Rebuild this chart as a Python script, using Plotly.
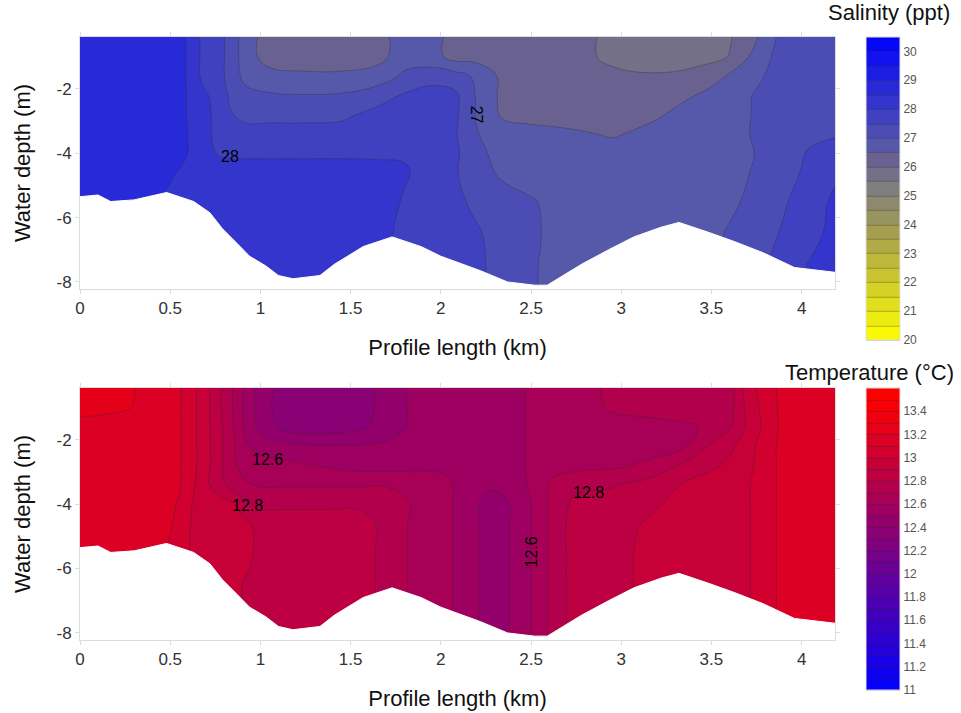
import plotly.graph_objects as go

# ---------------- data ----------------
depths = [-0.39, -1.0, -1.6, -2.2, -2.8, -3.4, -4.0, -4.6, -5.5, -6.5, -7.5, -8.22]

sal_x = [0, 0.25, 0.45, 0.55, 0.63, 0.7, 0.77, 0.84, 0.92, 1.05, 1.25, 1.45, 1.65, 1.8,
         1.95, 2.08, 2.2, 2.35, 2.5, 2.7, 2.95, 3.2, 3.45, 3.6, 3.75, 3.9, 4.05, 4.185]

salinity = [
    [28.75, 28.75, 28.75, 28.7, 28.25, 27.75, 27.7, 27.25, 26.75, 26.25, 26.2, 26.2, 26.3, 26.75, 26.7, 26.3, 26.25, 26.25, 26.2, 26.2, 25.9, 25.75, 25.75, 25.95, 26.45, 27.2, 27.25, 27.25],
    [28.75, 28.75, 28.75, 28.7, 28.25, 27.75, 27.7, 27.25, 26.75, 26.25, 26.2, 26.2, 26.35, 26.75, 26.7, 26.3, 26.3, 26.25, 26.2, 26.2, 25.9, 25.75, 25.8, 26.02, 26.7, 27.25, 27.25, 27.25],
    [28.75, 28.75, 28.75, 28.7, 28.25, 27.75, 27.7, 27.25, 26.85, 26.7, 26.6, 26.6, 26.7, 27.1, 27.25, 27.2, 26.9, 26.35, 26.25, 26.2, 26.1, 26.05, 26.25, 26.55, 26.9, 27.25, 27.25, 27.25],
    [28.75, 28.75, 28.75, 28.7, 28.3, 28.05, 27.75, 27.4, 27.15, 27.05, 27.02, 27.05, 27.3, 27.55, 27.75, 27.6, 26.95, 26.35, 26.25, 26.25, 26.2, 26.25, 26.55, 26.75, 27.05, 27.25, 27.25, 27.3],
    [28.75, 28.75, 28.75, 28.7, 28.3, 28.1, 27.85, 27.52, 27.35, 27.35, 27.35, 27.4, 27.65, 27.75, 27.75, 27.6, 26.95, 26.4, 26.3, 26.25, 26.25, 26.45, 26.75, 26.8, 27.05, 27.25, 27.25, 27.3],
    [28.75, 28.75, 28.75, 28.7, 28.35, 28.1, 27.85, 27.75, 27.7, 27.7, 27.7, 27.7, 27.75, 27.85, 27.8, 27.55, 27.02, 26.75, 26.7, 26.6, 26.45, 26.65, 26.8, 26.85, 27.05, 27.3, 27.4, 27.45],
    [28.75, 28.75, 28.75, 28.7, 28.35, 28.15, 27.95, 27.9, 27.9, 27.9, 27.9, 27.9, 27.9, 27.95, 27.8, 27.6, 27.1, 26.85, 26.75, 26.7, 26.7, 26.7, 26.75, 26.8, 27.02, 27.3, 27.55, 27.7],
    [28.75, 28.75, 28.75, 28.45, 28.3, 28.25, 28.25, 28.25, 28.25, 28.25, 28.25, 28.25, 28.2, 28.05, 27.8, 27.55, 27.2, 26.9, 26.75, 26.7, 26.7, 26.7, 26.75, 26.85, 27.05, 27.35, 27.6, 27.9],
    [28.75, 28.75, 28.45, 28.3, 28.25, 28.25, 28.25, 28.25, 28.25, 28.25, 28.25, 28.25, 28.25, 27.95, 27.8, 27.6, 27.4, 27.2, 27.05, 26.75, 26.7, 26.7, 26.75, 26.9, 27.15, 27.45, 27.75, 28.1],
    [28.75, 28.75, 28.45, 28.3, 28.25, 28.25, 28.25, 28.25, 28.25, 28.25, 28.25, 28.25, 28.2, 27.85, 27.75, 27.7, 27.55, 27.3, 27.1, 26.75, 26.75, 26.75, 26.8, 27.05, 27.3, 27.55, 27.85, 28.15],
    [28.75, 28.75, 28.45, 28.3, 28.25, 28.25, 28.25, 28.25, 28.25, 28.25, 28.25, 28.25, 28.2, 27.85, 27.75, 27.7, 27.6, 27.3, 27.05, 26.8, 26.8, 26.8, 26.85, 27.1, 27.35, 27.7, 28.05, 28.3],
    [28.75, 28.75, 28.45, 28.3, 28.25, 28.25, 28.25, 28.25, 28.25, 28.25, 28.25, 28.25, 28.2, 27.85, 27.75, 27.7, 27.6, 27.3, 27.05, 26.8, 26.8, 26.8, 26.85, 27.1, 27.35, 27.7, 28.05, 28.3],
]

temp_x = [0, 0.25, 0.45, 0.55, 0.63, 0.7, 0.77, 0.84, 0.92, 1.0, 1.15, 1.35, 1.55, 1.7, 1.85, 2.0,
          2.13, 2.28, 2.42, 2.52, 2.62, 2.75, 2.95, 3.15, 3.35, 3.5, 3.62, 3.7, 3.8, 3.92, 4.05, 4.185]

temperature = [
    [13.25, 13.22, 13.15, 13.11, 13.02, 12.93, 12.82, 12.71, 12.57, 12.45, 12.35, 12.33, 12.36, 12.44, 12.52, 12.55, 12.55, 12.56, 12.58, 12.62, 12.65, 12.66, 12.72, 12.74, 12.75, 12.77, 12.79, 12.95, 13.05, 13.15, 13.15, 13.15],
    [13.25, 13.21, 13.15, 13.11, 13.02, 12.93, 12.82, 12.71, 12.57, 12.45, 12.33, 12.32, 12.35, 12.44, 12.52, 12.55, 12.55, 12.56, 12.58, 12.62, 12.65, 12.66, 12.71, 12.72, 12.73, 12.76, 12.79, 12.93, 13.04, 13.15, 13.15, 13.15],
    [13.15, 13.15, 13.15, 13.11, 13.02, 12.93, 12.83, 12.72, 12.57, 12.47, 12.36, 12.34, 12.38, 12.45, 12.52, 12.55, 12.55, 12.55, 12.58, 12.62, 12.65, 12.66, 12.67, 12.68, 12.69, 12.71, 12.81, 12.92, 13.03, 13.15, 13.15, 13.15],
    [13.15, 13.15, 13.15, 13.11, 13.02, 12.93, 12.83, 12.73, 12.61, 12.56, 12.53, 12.51, 12.51, 12.52, 12.54, 12.56, 12.56, 12.55, 12.58, 12.62, 12.65, 12.66, 12.67, 12.66, 12.69, 12.82, 12.89, 12.96, 13.05, 13.15, 13.15, 13.15],
    [13.15, 13.15, 13.15, 13.11, 13.02, 12.93, 12.83, 12.72, 12.66, 12.65, 12.63, 12.59, 12.56, 12.56, 12.57, 12.58, 12.56, 12.55, 12.58, 12.62, 12.66, 12.67, 12.68, 12.72, 12.82, 12.88, 12.93, 12.97, 13.05, 13.15, 13.15, 13.15],
    [13.15, 13.15, 13.15, 13.11, 13.01, 12.92, 12.84, 12.76, 12.71, 12.69, 12.69, 12.69, 12.69, 12.69, 12.66, 12.63, 12.57, 12.52, 12.56, 12.63, 12.72, 12.77, 12.79, 12.84, 12.91, 12.95, 12.97, 12.99, 13.05, 13.15, 13.15, 13.15],
    [13.15, 13.15, 13.15, 13.09, 12.99, 12.96, 12.95, 12.92, 12.81, 12.78, 12.78, 12.78, 12.78, 12.76, 12.69, 12.64, 12.56, 12.45, 12.52, 12.62, 12.73, 12.83, 12.85, 12.88, 12.93, 12.95, 12.97, 12.99, 13.05, 13.15, 13.15, 13.15],
    [13.15, 13.15, 13.15, 13.07, 12.98, 12.95, 12.95, 12.94, 12.92, 12.86, 12.85, 12.85, 12.84, 12.77, 12.68, 12.64, 12.56, 12.45, 12.52, 12.62, 12.73, 12.85, 12.86, 12.91, 12.94, 12.95, 12.97, 12.99, 13.05, 13.15, 13.15, 13.15],
    [13.15, 13.15, 13.12, 13.05, 12.98, 12.95, 12.95, 12.94, 12.93, 12.87, 12.85, 12.85, 12.84, 12.77, 12.68, 12.64, 12.56, 12.45, 12.52, 12.62, 12.73, 12.85, 12.87, 12.92, 12.94, 12.95, 12.97, 12.99, 13.05, 13.15, 13.15, 13.15],
    [13.15, 13.15, 13.12, 13.05, 12.98, 12.95, 12.95, 12.93, 12.89, 12.86, 12.85, 12.85, 12.84, 12.77, 12.68, 12.64, 12.56, 12.45, 12.52, 12.62, 12.73, 12.85, 12.87, 12.92, 12.94, 12.95, 12.97, 12.99, 13.05, 13.15, 13.15, 13.15],
    [13.15, 13.15, 13.12, 13.05, 12.98, 12.95, 12.95, 12.93, 12.89, 12.86, 12.85, 12.85, 12.84, 12.77, 12.68, 12.64, 12.56, 12.45, 12.52, 12.62, 12.73, 12.85, 12.87, 12.92, 12.94, 12.95, 12.97, 12.99, 13.05, 13.15, 13.15, 13.15],
    [13.15, 13.15, 13.12, 13.05, 12.98, 12.95, 12.95, 12.93, 12.89, 12.86, 12.85, 12.85, 12.84, 12.77, 12.68, 12.64, 12.56, 12.45, 12.52, 12.62, 12.73, 12.85, 12.87, 12.92, 12.94, 12.95, 12.97, 12.99, 13.05, 13.15, 13.15, 13.15],
]

# seabed profile (km, m)
bottom_x = [0, 0.1, 0.17, 0.3, 0.48, 0.63, 0.72, 0.79, 0.87, 0.94, 1.03, 1.10, 1.18, 1.33, 1.41,
            1.50, 1.57, 1.73, 1.89, 2.0, 2.22, 2.37, 2.52, 2.59, 2.68, 2.78, 2.93, 3.07, 3.22,
            3.32, 3.48, 3.63, 3.79, 3.96, 4.185]
bottom_depth = [-5.35, -5.3, -5.5, -5.45, -5.22, -5.5, -5.85, -6.35, -6.8, -7.2, -7.5, -7.8, -7.9,
                -7.8, -7.45, -7.15, -6.9, -6.6, -6.9, -7.2, -7.65, -8.0, -8.1, -8.1, -7.8, -7.45,
                -7.0, -6.6, -6.3, -6.15, -6.45, -6.75, -7.1, -7.55, -7.7]

x_ticks = [0, 0.5, 1, 1.5, 2, 2.5, 3, 3.5, 4]
x_ticktext = ["0", "0.5", "1", "1.5", "2", "2.5", "3", "3.5", "4"]
y_ticks = [-8, -6, -4, -2]
y_ticktext = ["-8", "-6", "-4", "-2"]
sal_cb_ticks = [20, 21, 22, 23, 24, 25, 26, 27, 28, 29, 30]
temp_cb_ticks = [11, 11.2, 11.4, 11.6, 11.8, 12, 12.2, 12.4, 12.6, 12.8, 13, 13.2, 13.4]
temp_cb_text = ["11", "11.2", "11.4", "11.6", "11.8", "12", "12.2", "12.4", "12.6", "12.8", "13", "13.2", "13.4"]

# contour labels: (text, x, depth, angle)
sal_labels = [("28", 0.83, -4.1, 0), ("27", 2.2, -2.8, 90)]
temp_labels = [("12.6", 1.04, -2.62, 0), ("12.8", 0.93, -4.05, 0),
               ("12.8", 2.82, -3.65, 0), ("12.6", 2.5, -5.5, -90)]

# ---------------- figure ----------------
FONT = "Liberation Sans, Arial, sans-serif"
X_RANGE = [0, 4.185]
Y_RANGE = [-8.22, -0.39]

fig = go.Figure()

fig.add_trace(go.Contour(
    x=sal_x, y=depths, z=salinity, xaxis="x", yaxis="y",
    colorscale=[[0, "rgb(255,255,0)"], [0.357, "rgb(165,158,80)"], [0.5, "rgb(127,127,127)"],
                [0.595, "rgb(105,98,145)"], [0.643, "rgb(86,89,170)"], [1, "rgb(0,0,255)"]],
    zmin=20, zmax=30.5,
    contours=dict(start=20, end=30.5, size=0.5, coloring="fill", showlines=True),
    line=dict(color="rgba(40,40,40,0.55)", width=0.6, smoothing=1.3),
    hoverinfo="skip",
    colorbar=dict(x=1.041, xanchor="left", xpad=0, y=1.0, yanchor="top", ypad=0,
                  len=303, lenmode="pixels", thickness=34, thicknessmode="pixels",
                  tickvals=sal_cb_ticks, ticktext=[str(v) for v in sal_cb_ticks],
                  ticks="", tickfont=dict(family=FONT, size=12, color="#555555"),
                  outlinewidth=1, outlinecolor="#e3e3e3"),
))

fig.add_trace(go.Contour(
    x=temp_x, y=depths, z=temperature, xaxis="x2", yaxis="y2",
    colorscale=[[0, "rgb(0,0,255)"], [1, "rgb(255,0,0)"]],
    zmin=11, zmax=13.6,
    contours=dict(start=11, end=13.6, size=0.1, coloring="fill", showlines=True),
    line=dict(color="rgba(40,40,40,0.55)", width=0.6, smoothing=1.3),
    hoverinfo="skip",
    colorbar=dict(x=1.041, xanchor="left", xpad=0, y=0.418, yanchor="top", ypad=0,
                  len=302, lenmode="pixels", thickness=34, thicknessmode="pixels",
                  tickvals=temp_cb_ticks, ticktext=temp_cb_text,
                  ticks="", tickfont=dict(family=FONT, size=12, color="#555555"),
                  outlinewidth=1, outlinecolor="#e3e3e3"),
))

# seabed masks
for xa, ya in (("x", "y"), ("x2", "y2")):
    fig.add_trace(go.Scatter(
        x=bottom_x + [bottom_x[-1], bottom_x[0]],
        y=bottom_depth + [Y_RANGE[0] - 0.3, Y_RANGE[0] - 0.3],
        xaxis=xa, yaxis=ya, mode="lines", fill="toself", fillcolor="white",
        line=dict(color="white", width=1), hoverinfo="skip", showlegend=False,
    ))

axis_common = dict(showline=True, linecolor="#dcdcdc", linewidth=1, mirror="ticks",
                   ticks="outside", ticklen=4, tickcolor="#dcdcdc", showgrid=False,
                   zeroline=False, tickfont=dict(family=FONT, size=17, color="#333333"))

xaxis_kw = dict(axis_common, range=X_RANGE, tickvals=x_ticks, ticktext=x_ticktext,
                title=dict(text="Profile length (km)", font=dict(family=FONT, size=22, color="#111111"),
                           standoff=22))
yaxis_kw = dict(axis_common, range=Y_RANGE, tickvals=y_ticks, ticktext=y_ticktext,
                title=dict(text="Water depth (m)", font=dict(family=FONT, size=22, color="#111111"),
                           standoff=19))

fig.update_layout(
    width=961, height=713,
    margin=dict(l=80, r=126, t=37, b=73, autoexpand=False),
    paper_bgcolor="white", plot_bgcolor="white",
    font=dict(family=FONT),
    showlegend=False,
    hovermode=False,
    xaxis=dict(xaxis_kw, domain=[0, 1], anchor="y"),
    yaxis=dict(yaxis_kw, domain=[0.582, 1], anchor="x"),
    xaxis2=dict(xaxis_kw, domain=[0, 1], anchor="y2"),
    yaxis2=dict(yaxis_kw, domain=[0, 0.418], anchor="x2"),
)

annotations = []
for text, xv, yv, ang in sal_labels:
    annotations.append(dict(text=text, x=xv, y=yv, xref="x", yref="y", showarrow=False,
                            textangle=ang, font=dict(family=FONT, size=16, color="black")))
for text, xv, yv, ang in temp_labels:
    annotations.append(dict(text=text, x=xv, y=yv, xref="x2", yref="y2", showarrow=False,
                            textangle=ang, font=dict(family=FONT, size=16, color="black")))
annotations.append(dict(text="Salinity (ppt)", x=1.155, y=1.04, xref="paper", yref="paper",
                        xanchor="right", yanchor="middle", showarrow=False,
                        font=dict(family=FONT, size=22, color="#111111")))
annotations.append(dict(text="Temperature (°C)", x=1.16, y=0.444, xref="paper", yref="paper",
                        xanchor="right", yanchor="middle", showarrow=False,
                        font=dict(family=FONT, size=22, color="#111111")))
fig.update_layout(annotations=annotations)

# remove the browser's default 8 px page margin so the figure fills the window exactly
fig.write_html("out.html", config={"displayModeBar": False, "staticPlot": True},
               post_script="document.body.style.margin='0px';")
